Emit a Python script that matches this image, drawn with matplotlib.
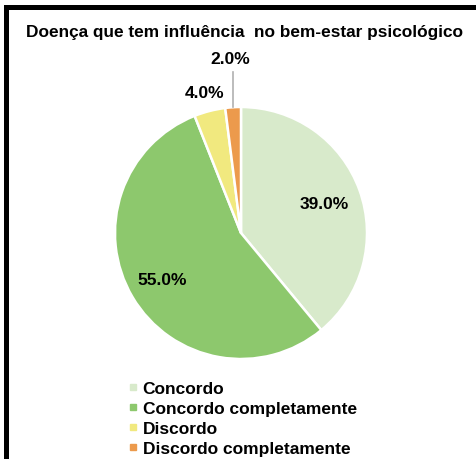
import numpy as np
import matplotlib.pyplot as plt
from matplotlib.lines import Line2D

plt.rcParams['font.family'] = ['Liberation Sans', 'DejaVu Sans']

categories = ["Concordo", "Concordo completamente", "Discordo", "Discordo completamente"]
values = [39.0, 55.0, 4.0, 2.0]
colors = ["#d8eacb", "#8dc86d", "#f1e97f", "#ec9a4c"]

W, H = 476, 460
fig = plt.figure(figsize=(W / 100, H / 100), dpi=100)

# pie axes, placed in pixel terms
cx, cy, r = 241, 234, 126
ax = fig.add_axes([(cx - r) / W, 1 - (cy + r) / H, 2 * r / W, 2 * r / H])

wedges, _ = ax.pie(values, colors=colors, startangle=90, counterclock=False,
                   radius=1, wedgeprops=dict(edgecolor="white", linewidth=1.8))
ax.set_xlim(-1, 1)
ax.set_ylim(-1, 1)
ax.axis("off")

# label radius per slice (inside for big ones, outside for small ones)
label_r = [0.70, 0.73, 1.15, 1.39]
start = 90.0
for v, lr in zip(values, label_r):
    mid = start - v * 360 / 100 / 2
    a = np.deg2rad(mid)
    ax.text(lr * np.cos(a), lr * np.sin(a), f"{v:.1f}%", ha="center", va="center",
            fontsize=12.5, fontweight="bold", clip_on=False)
    if lr > 1.3:
        x = 0.96 * np.cos(a)
        ax.plot([x, x], [1.0, 1.28], color="#b0b0b0", lw=1.2, clip_on=False)
    start -= v * 360 / 100

fig.text(245 / W, 1 - 33 / H, "Doença que tem influência  no bem-estar psicológico",
         ha="center", va="center", fontsize=12.4, fontweight="bold")

handles = [Line2D([], [], marker="s", ls="none", markersize=5, color=c) for c in colors]
leg = fig.legend(handles, categories, loc="upper left",
                 bbox_to_anchor=(120 / W, 1 - 373 / H), frameon=False,
                 handlelength=0.5, handletextpad=0.3, labelspacing=0.28,
                 borderpad=0, prop=dict(size=12.5, weight="bold"))

# border along top and left edges
fig.add_artist(Line2D([5.5 / W, 1], [1 - 7.5 / H, 1 - 7.5 / H], color="black", lw=3.6,
                      transform=fig.transFigure))
fig.add_artist(Line2D([5.5 / W, 5.5 / W], [0, 1 - 7.5 / H], color="black", lw=3.6,
                      transform=fig.transFigure))

fig.savefig("out.png", dpi=100)
